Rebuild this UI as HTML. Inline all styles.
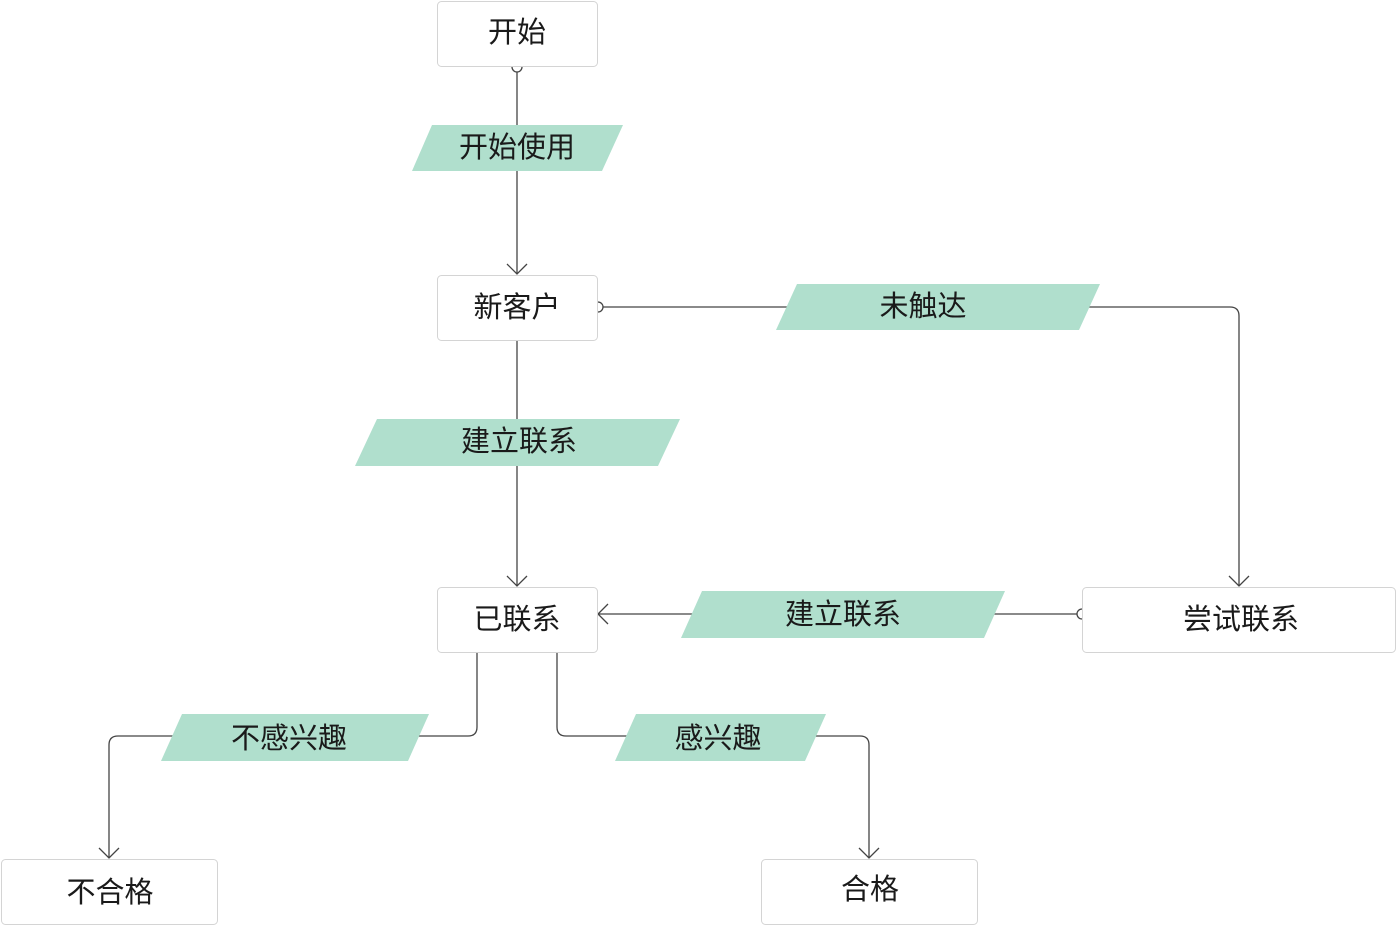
<!DOCTYPE html>
<html><head><meta charset="utf-8"><style>
html,body{margin:0;padding:0;background:#fff;}
svg text{font-family:"Liberation Sans","Noto Sans CJK SC",sans-serif;font-size:29px;fill:#1a1a1a;text-anchor:middle;dominant-baseline:central;}
</style></head><body>
<svg width="1396" height="925" viewBox="0 0 1396 925" xmlns="http://www.w3.org/2000/svg">
<g fill="none" stroke="#444" stroke-width="1.3">
<path d="M517 72 V273"/>
<path d="M507 264 L517 274 L527 264"/>
<path d="M603 307 H1230 Q1239 307 1239 316 V585"/>
<path d="M1229 576 L1239 586 L1249 576"/>
<path d="M517 340 V585"/>
<path d="M507 576 L517 586 L527 576"/>
<path d="M1077 614 H598"/>
<path d="M608 604 L598 614 L608 624"/>
<path d="M477 652 V727 Q477 736 468 736 H118 Q109 736 109 745 V857"/>
<path d="M99 848 L109 858 L119 848"/>
<path d="M557 652 V727 Q557 736 566 736 H860 Q869 736 869 745 V857"/>
<path d="M859 848 L869 858 L879 848"/>
<path d="M512 67 A5 5 0 0 0 522 67"/>
<path d="M598 302 A5 5 0 0 1 598 312"/>
<path d="M1082 609 A5 5 0 0 0 1082 619"/>
</g>
<g fill="#fff" stroke="#d4d4d4" stroke-width="1">
<rect x="437.5" y="1.5" width="160" height="65" rx="4"/>
<rect x="437.5" y="275.5" width="160" height="65" rx="4"/>
<rect x="437.5" y="587.5" width="160" height="65" rx="4"/>
<rect x="1082.5" y="587.5" width="313" height="65" rx="4"/>
<rect x="1.5" y="859.5" width="216" height="65" rx="4"/>
<rect x="761.5" y="859.5" width="216" height="65" rx="4"/>
</g>
<g fill="#b0dfcd">
<polygon points="432,125 623,125 602,171 412,171"/>
<polygon points="797,284 1100,284 1079,330 776,330"/>
<polygon points="377,419 680,419 658,466 355,466"/>
<polygon points="702,591 1005,591 984,638 681,638"/>
<polygon points="182,714 429,714 408,761 161,761"/>
<polygon points="636,714 826,714 805,761 615,761"/>
</g>
<text x="517" y="33">开始</text>
<text x="517" y="308">新客户</text>
<text x="517" y="620">已联系</text>
<text x="1241" y="620">尝试联系</text>
<text x="110" y="893">不合格</text>
<text x="870" y="890">合格</text>
<text x="517" y="148">开始使用</text>
<text x="923" y="307">未触达</text>
<text x="519" y="442">建立联系</text>
<text x="843" y="615">建立联系</text>
<text x="289" y="739">不感兴趣</text>
<text x="718" y="739">感兴趣</text>
</svg>
</body></html>
